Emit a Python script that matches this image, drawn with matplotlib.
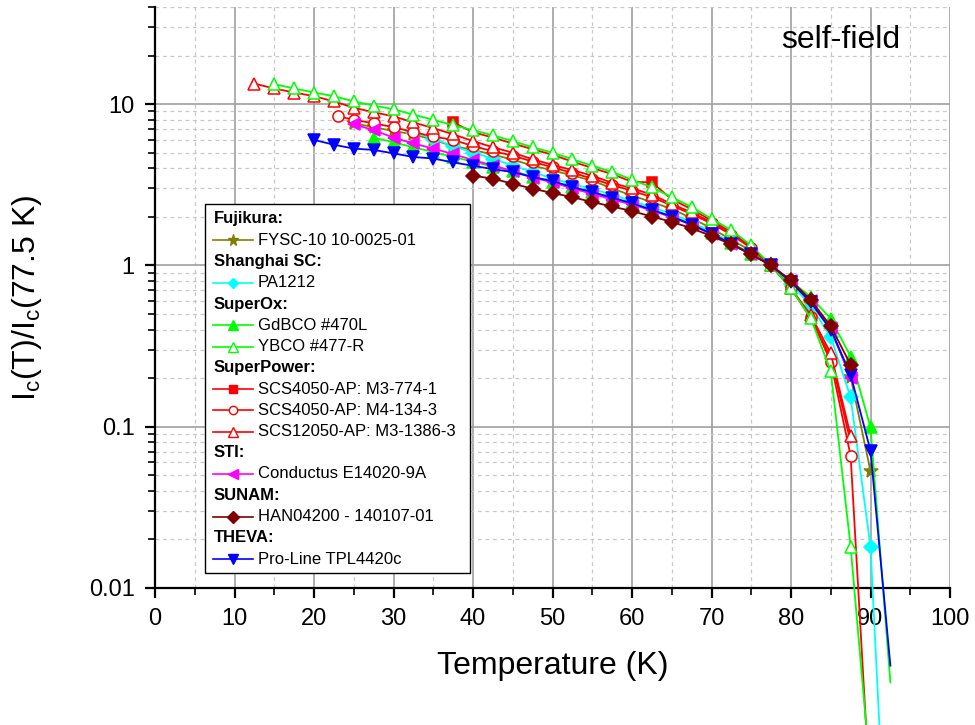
import numpy as np
import matplotlib.pyplot as plt
from matplotlib.lines import Line2D
from matplotlib.patches import Rectangle
from matplotlib.ticker import LogLocator, MultipleLocator, FuncFormatter, NullFormatter

plt.rcParams['font.family'] = ['Liberation Sans', 'DejaVu Sans']

# Fujikura FYSC-10 10-0025-01
t_fysc = [25, 27.5, 30, 32.5, 35, 37.5, 40, 42.5, 45, 47.5, 50, 52.5, 55, 57.5, 60,
          62.5, 65, 67.5, 70, 72.5, 75, 77.5, 80, 82.5, 85, 87.5, 90]
v_fysc = [7.6, 7.2, 6.8, 6.5, 6.0, 5.5, 5.2, 4.87, 4.52, 4.16, 3.88, 3.61, 3.36, 3.0, 2.71,
          2.47, 2.24, 1.96, 1.70, 1.44, 1.23, 1.0, 0.78, 0.58, 0.40, 0.203, 0.053]

# Shanghai SC PA1212
t_pa = [32.5, 35, 37.5, 40, 42.5, 45, 47.5, 50, 52.5, 55, 57.5, 60, 62.5, 65, 67.5,
        70, 72.5, 75, 77.5, 80, 82.5, 85, 87.5, 90, 92.5]
v_pa = [6.7, 6.1, 5.5, 5.0, 4.6, 4.15, 3.8, 3.45, 3.2, 2.97, 2.75, 2.5, 2.3, 2.09, 1.85,
        1.62, 1.38, 1.18, 1.0, 0.77, 0.56, 0.36, 0.152, 0.018, 0.00006]

# SuperOx GdBCO #470L
t_gd = [27.5, 30, 32.5, 35, 37.5, 40, 42.5, 45, 47.5, 50, 52.5, 55, 57.5, 60, 62.5,
        65, 67.5, 70, 72.5, 75, 77.5, 80, 82.5, 85, 87.5, 90, 92.5]
v_gd = [6.2, 5.8, 5.4, 5.05, 4.7, 4.4, 4.1, 3.85, 3.55, 3.3, 3.05, 2.85, 2.62, 2.42, 2.22,
        2.02, 1.8, 1.58, 1.37, 1.18, 1.0, 0.8, 0.636, 0.467, 0.272, 0.099, 0.0026]

# SuperOx YBCO #477-R
t_yb = [15, 17.5, 20, 22.5, 25, 27.5, 30, 32.5, 35, 37.5, 40, 42.5, 45, 47.5, 50, 52.5,
        55, 57.5, 60, 62.5, 65, 67.5, 70, 72.5, 75, 77.5, 80, 82.5, 85, 87.5, 90]
v_yb = [13.3, 12.5, 11.8, 11.2, 10.4, 9.8, 9.3, 8.6, 8.0, 7.4, 6.9, 6.4, 5.9, 5.4, 5.0, 4.55,
        4.15, 3.8, 3.4, 3.05, 2.65, 2.3, 1.95, 1.65, 1.33, 1.0, 0.72, 0.47, 0.22, 0.018, 0.0007]

# SuperPower SCS4050-AP: M3-774-1 (markers mostly hidden under the YBCO triangles)
t_m3 = [37.5, 40, 42.5, 45, 47.5, 50, 52.5, 55, 57.5, 60, 62.5, 65, 67.5, 70, 72.5, 75,
        77.5, 80, 82.5, 85, 87.5]
v_m3 = [7.7, 6.7, 6.2, 5.7, 5.25, 4.85, 4.4, 4.02, 3.68, 3.3, 3.27, 2.57, 2.23, 1.9, 1.61, 1.31,
        1.0, 0.72, 0.47, 0.27, 0.08]
shown_m3 = [0, 10]

# SuperPower SCS4050-AP: M4-134-3
t_m4 = [23, 25, 27.5, 30, 32.5, 35, 37.5, 40, 42.5, 45, 47.5, 50, 52.5, 55, 57.5, 60,
        62.5, 65, 67.5, 70, 72.5, 75, 77.5, 80, 82.5, 85, 87.5, 90]
v_m4 = [8.4, 8.0, 7.6, 7.2, 6.7, 6.3, 6.0, 5.5, 5.1, 4.8, 4.4, 4.05, 3.75, 3.45, 3.15, 2.9,
        2.65, 2.35, 2.08, 1.82, 1.55, 1.28, 1.0, 0.72, 0.48, 0.252, 0.066, 0.00046]

# SuperPower SCS12050-AP: M3-1386-3
t_12 = [12.5, 15, 17.5, 20, 22.5, 25, 27.5, 30, 32.5, 35, 37.5, 40, 42.5, 45, 47.5, 50,
        52.5, 55, 57.5, 60, 62.5, 65, 67.5, 70, 72.5, 75, 77.5, 80, 82.5, 85, 87.5]
v_12 = [13.4, 12.5, 11.8, 11.2, 10.4, 9.5, 8.9, 8.4, 7.7, 7.1, 6.5, 5.9, 5.4, 5.0, 4.55, 4.2,
        3.9, 3.6, 3.25, 3.0, 2.75, 2.4, 2.13, 1.85, 1.58, 1.3, 1.0, 0.72, 0.49, 0.285, 0.088]

# STI Conductus E14020-9A
t_sti = [25, 27.5, 30, 32.5, 35, 37.5, 40, 42.5, 45, 47.5, 50, 52.5, 55, 57.5, 60, 62.5,
         65, 67.5, 70, 72.5, 75, 77.5, 80, 82.5, 85, 87.5]
v_sti = [7.5, 6.9, 6.2, 5.7, 5.3, 4.9, 4.5, 4.16, 3.85, 3.5, 3.28, 3.0, 2.78, 2.56, 2.39, 2.19,
         1.99, 1.78, 1.56, 1.36, 1.17, 1.0, 0.8, 0.6, 0.41, 0.2]

# SUNAM HAN04200 - 140107-01
t_sun = [40, 42.5, 45, 47.5, 50, 52.5, 55, 57.5, 60, 62.5, 65, 67.5, 70, 72.5, 75, 77.5,
         80, 82.5, 85, 87.5]
v_sun = [3.6, 3.45, 3.21, 2.99, 2.81, 2.65, 2.47, 2.32, 2.17, 2.01, 1.86, 1.70, 1.52, 1.35, 1.17, 1.0,
         0.807, 0.61, 0.42, 0.242]

# THEVA Pro-Line TPL4420c
t_thv = [20, 22.5, 25, 27.5, 30, 32.5, 35, 37.5, 40, 42.5, 45, 47.5, 50, 52.5, 55, 57.5,
         60, 62.5, 65, 67.5, 70, 72.5, 75, 77.5, 80, 82.5, 85, 87.5, 90, 92.5]
v_thv = [6.0, 5.6, 5.3, 5.2, 4.95, 4.7, 4.6, 4.35, 4.15, 3.95, 3.79, 3.53, 3.33, 3.06, 2.85, 2.63,
         2.43, 2.21, 2.01, 1.79, 1.57, 1.36, 1.17, 1.0, 0.79, 0.59, 0.4, 0.21, 0.071, 0.0033]

# (header, [(label, t, v, color, marker, face, ms)])
groups = [
    ('Fujikura:', [('FYSC-10 10-0025-01', t_fysc, v_fysc, '#808000', '*', '#808000', 11)]),
    ('Shanghai SC:', [('PA1212', t_pa, v_pa, '#00FFFF', 'D', '#00FFFF', 7)]),
    ('SuperOx:', [('GdBCO #470L', t_gd, v_gd, '#00FF00', '^', '#00FF00', 9),
                  ('YBCO #477-R', t_yb, v_yb, '#00FF00', '^', 'white', 9)]),
    ('SuperPower:', [('SCS4050-AP: M3-774-1', t_m3, v_m3, '#FF0000', 's', '#FF0000', 7),
                     ('SCS4050-AP: M4-134-3', t_m4, v_m4, '#FF0000', 'o', 'white', 8),
                     ('SCS12050-AP: M3-1386-3', t_12, v_12, '#FF0000', '^', 'white', 9)]),
    ('STI:', [('Conductus E14020-9A', t_sti, v_sti, '#FF00FF', '<', '#FF00FF', 9)]),
    ('SUNAM:', [('HAN04200 - 140107-01', t_sun, v_sun, '#800000', 'D', '#800000', 7.5)]),
    ('THEVA:', [('Pro-Line TPL4420c', t_thv, v_thv, '#0000FF', 'v', '#0000FF', 9)]),
]
draw_order = ['SCS4050-AP: M3-774-1', 'FYSC-10 10-0025-01', 'PA1212', 'GdBCO #470L',
              'SCS4050-AP: M4-134-3', 'SCS12050-AP: M3-1386-3', 'YBCO #477-R',
              'Conductus E14020-9A', 'Pro-Line TPL4420c', 'HAN04200 - 140107-01']

fig = plt.figure(figsize=(9.75, 7.25), dpi=100)
ax = fig.add_axes([155/975, 137/725, 795/975, 581/725])

series = {}
for head, items in groups:
    for it in items:
        series[it[0]] = it

for z, name in enumerate(draw_order):
    lab, t, v, c, m, fc, ms = series[name]
    t = np.array(t)
    v = np.array(v)
    ax.plot(t, v, '-', color=c, lw=1.3, clip_on=False, zorder=3 + z)
    idx = np.where(v >= 0.01)[0]
    if name == 'SCS4050-AP: M3-774-1':
        idx = shown_m3
    ax.plot(t[idx], v[idx], ls='none', marker=m, ms=ms, mfc=fc, mec=c, mew=1.1,
            zorder=3 + z)

ax.set_yscale('log')
ax.set_xlim(0, 100)
ax.set_ylim(0.01, 40)
ax.xaxis.set_major_locator(MultipleLocator(10))
ax.xaxis.set_minor_locator(MultipleLocator(5))
ax.yaxis.set_major_locator(LogLocator(base=10, numticks=10))
ax.yaxis.set_minor_locator(LogLocator(base=10, subs=np.arange(2, 10), numticks=10))
ax.yaxis.set_major_formatter(FuncFormatter(lambda y, p: '{:g}'.format(y)))
ax.yaxis.set_minor_formatter(NullFormatter())

ax.grid(which='major', color='#a0a0a0', lw=1.2, ls='-')
ax.grid(which='minor', color='#c8c8c8', lw=0.9, ls=(0, (3, 3)))
ax.set_axisbelow(True)
for s in ['top', 'right']:
    ax.spines[s].set_visible(False)
for s in ['left', 'bottom']:
    ax.spines[s].set_linewidth(1.6)
ax.tick_params(which='major', direction='out', length=7.5, width=1.6, labelsize=17, pad=7)
ax.tick_params(which='minor', direction='out', length=5, width=1.2)

ax.set_xlabel('Temperature (K)', fontsize=23, labelpad=15)
ax.set_ylabel(r'I$_\mathregular{c}$(T)/I$_\mathregular{c}$(77.5 K)', fontsize=23)
ax.yaxis.set_label_coords(-0.14, 0.5)
ax.text(0.937, 0.943, 'self-field', transform=ax.transAxes, fontsize=23, ha='right', va='center')

# legend box drawn by hand (group headers without handles)
def fx(px):
    return px / 975

def fy(py):
    return 1 - py / 725

fig.add_artist(Rectangle((fx(205), fy(573)), fx(470) - fx(205), fy(204) - fy(573),
                         transform=fig.transFigure, fc='white', ec='black', lw=1.0, zorder=20))
row = 0
for head, items in groups:
    fig.text(fx(214), fy(219 + row * 21.25), head, fontsize=12, fontweight='bold',
             va='center', ha='left', zorder=21)
    row += 1
    for lab, t, v, c, m, fc, ms in items:
        yy = fy(219 + row * 21.25)
        fig.add_artist(Line2D([fx(213), fx(253)], [yy, yy], color=c, lw=1.2,
                              transform=fig.transFigure, zorder=21))
        fig.add_artist(Line2D([fx(233)], [yy], marker=m, ms=ms * 0.75, mfc=fc, mec=c, mew=1.0,
                              transform=fig.transFigure, zorder=22))
        fig.text(fx(258), yy, lab, fontsize=12, va='center', ha='left', zorder=21)
        row += 1

fig.savefig('out.png', dpi=100)
